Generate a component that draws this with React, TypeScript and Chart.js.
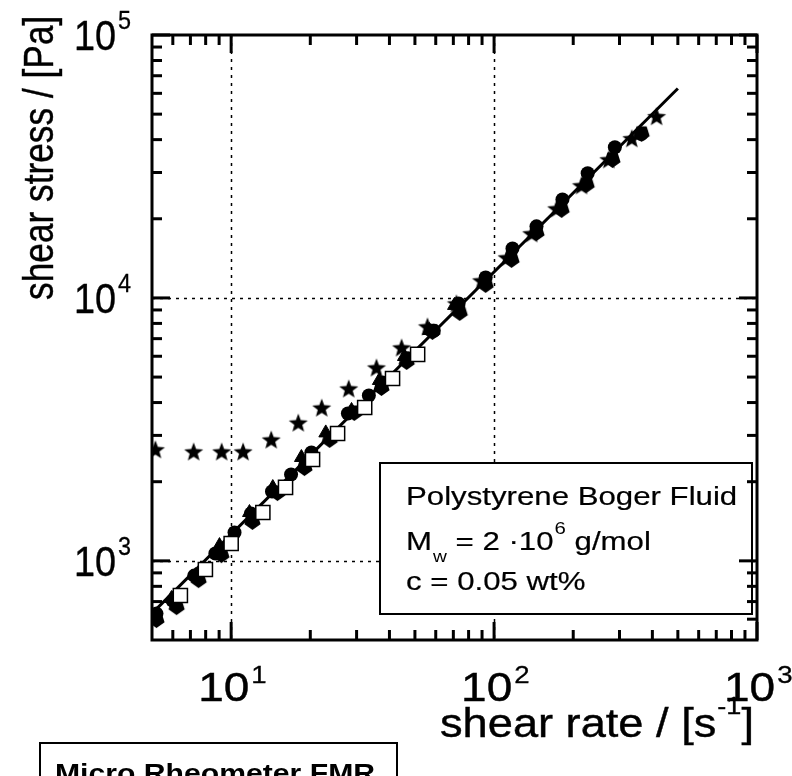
import React, { useEffect, useRef } from 'react';
import { Chart, registerables } from 'chart.js';
Chart.register(...registerables);

// ---- data ----
const fitRate = [5, 500];
const fitStress = [631, 62600];

const starRate = [5.15, 7.2, 9.2, 11.1, 14.2, 18.0, 22.1, 28.0, 35.7, 44.5, 55.8, 71.9, 89.6, 112, 139, 173, 215, 273, 334, 415];
const starStress = [2655, 2606, 2606, 2606, 2894, 3357, 3828, 4525, 5440, 6479, 7791, 9530, 11660, 14260, 17600, 21900, 26800, 33650, 40470, 49100];

const circleRate = [5.2, 5.98, 7.24, 8.71, 10.3, 11.9, 14.3, 16.9, 20.2, 27.8, 33.4, 37.7, 47, 59, 73.3, 92.9, 117.5, 145, 182, 227, 288, 363];
const circleStress = [630, 706, 879, 1066, 1282, 1514, 1836, 2130, 2583, 3636, 4256, 4765, 5900, 7500, 9530, 11970, 15420, 18720, 23700, 29800, 37400, 42000];

const pentRate = [5.2, 6.2, 7.52, 9.18, 12.05, 15.0, 19.0, 23.7, 29.4, 37.3, 46.5, 58.3, 74.0, 92.9, 116.5, 145, 180.6, 225, 282, 364];
const pentStress = [593, 664, 841, 1047, 1400, 1803, 2244, 2872, 3636, 4525, 5683, 7395, 8730, 11160, 13890, 17580, 21530, 26800, 33350, 41900];

const triRate = [5.93, 7.31, 9.03, 11.74, 14.4, 18.5, 22.9, 28.7, 36.6, 45.6, 56.8, 70.7];
const triStress = [719, 879, 1143, 1527, 1900, 2472, 3066, 3733, 4853, 5987, 7520, 9365];

const squareRate = [6.41, 7.98, 10.0, 13.2, 16.1, 20.4, 25.4, 32.2, 41.1, 51.2];
const squareStress = [738, 927, 1164, 1527, 1902, 2430, 3051, 3830, 4940, 6097];

// ---- axes ----
const xMin = 5, xMax = 1000, yMin = 500, yMax = 100000;
const xMajor = [10, 100, 1000];
const xMinor = [6, 7, 8, 9, 20, 30, 40, 50, 60, 70, 80, 90, 200, 300, 400, 500, 600, 700, 800, 900];
const yMajor = [1000, 10000, 100000];
const yMinor = [600, 700, 800, 900, 2000, 3000, 4000, 5000, 6000, 7000, 8000, 9000, 20000, 30000, 40000, 50000, 60000, 70000, 80000, 90000];
const xGrid = [10, 100];
const yGrid = [1000, 10000];
const xTickExp = ['1', '2', '3'];
const yTickExp = ['3', '4', '5'];

const FONT = '"Liberation Sans", Arial, sans-serif';

function txt(ctx: CanvasRenderingContext2D, s: string, x: number, y: number, size: number, sx = 1, bold = false, stroke = 0) {
  ctx.save();
  ctx.font = `${bold ? 'bold ' : ''}${size}px ${FONT}`;
  ctx.textAlign = 'left';
  ctx.textBaseline = 'alphabetic';
  ctx.fillStyle = '#000';
  ctx.strokeStyle = '#000';
  ctx.translate(x, y);
  ctx.scale(sx, 1);
  ctx.fillText(s, 0, 0);
  if (stroke > 0) { ctx.lineWidth = stroke; ctx.strokeText(s, 0, 0); }
  const w = ctx.measureText(s).width * sx;
  ctx.restore();
  return w;
}

function makeStar(size: number, outer: number, inner: number) {
  const c = document.createElement('canvas');
  c.width = size; c.height = size;
  const g = c.getContext('2d')!;
  g.fillStyle = '#000';
  g.beginPath();
  for (let i = 0; i < 10; i++) {
    const r = i % 2 === 0 ? outer : inner;
    const a = -Math.PI / 2 + (i * Math.PI) / 5;
    const px = size / 2 + r * Math.cos(a);
    const py = size / 2 + r * Math.sin(a) + 1;
    if (i === 0) g.moveTo(px, py); else g.lineTo(px, py);
  }
  g.closePath();
  g.fill();
  return c;
}

function makePentagon(size: number, r: number) {
  const c = document.createElement('canvas');
  c.width = size; c.height = size;
  const g = c.getContext('2d')!;
  g.fillStyle = '#000';
  g.beginPath();
  for (let i = 0; i < 5; i++) {
    const a = Math.PI / 2 + (i * 2 * Math.PI) / 5;
    const px = size / 2 + r * Math.cos(a);
    const py = size / 2 + r * Math.sin(a) - 1;
    if (i === 0) g.moveTo(px, py); else g.lineTo(px, py);
  }
  g.closePath();
  g.fill();
  return c;
}

const decor = {
  id: 'decor',
  beforeDatasetsDraw(chart: any) {
    const ctx: CanvasRenderingContext2D = chart.ctx;
    const { left, right, top, bottom } = chart.chartArea;
    const xs = chart.scales.x, ys = chart.scales.y;
    ctx.save();
    ctx.strokeStyle = '#000';
    ctx.lineWidth = 1.5;
    ctx.setLineDash([3, 5]);
    for (const v of xGrid) {
      const px = Math.round(xs.getPixelForValue(v)) + 0.5;
      ctx.beginPath(); ctx.moveTo(px, top); ctx.lineTo(px, bottom); ctx.stroke();
    }
    for (const v of yGrid) {
      const py = Math.round(ys.getPixelForValue(v)) + 0.5;
      ctx.beginPath(); ctx.moveTo(left, py); ctx.lineTo(right, py); ctx.stroke();
    }
    ctx.restore();
  },
  afterDatasetsDraw(chart: any) {
    const ctx: CanvasRenderingContext2D = chart.ctx;
    const { left, right, top, bottom } = chart.chartArea;
    const xs = chart.scales.x, ys = chart.scales.y;

    // legend / annotation box
    ctx.save();
    ctx.fillStyle = '#fff';
    ctx.strokeStyle = '#000';
    ctx.lineWidth = 2;
    ctx.fillRect(380, 463, 372, 151);
    ctx.strokeRect(380, 463, 372, 151);
    ctx.restore();
    txt(ctx, 'Polystyrene Boger Fluid', 406, 505, 26, 1.2, false, 0.2);
    let x = 406;
    x += txt(ctx, 'M', x, 550, 26, 1.2, false, 0.2);
    x += txt(ctx, 'w', x + 1, 562, 16, 1.2) + 1;
    x += txt(ctx, ' = 2 \u00b710', x, 550, 26, 1.2, false, 0.2);
    x += txt(ctx, '6', x + 1, 534, 17, 1.2) + 1;
    txt(ctx, ' g/mol', x, 550, 26, 1.2, false, 0.2);
    txt(ctx, 'c = 0.05 wt%', 406, 590, 26, 1.2, false, 0.2);

    // frame
    ctx.save();
    ctx.strokeStyle = '#000';
    ctx.lineWidth = 3;
    ctx.setLineDash([]);
    ctx.strokeRect(left, top, right - left, bottom - top);

    // ticks
    const major = 18, minor = 10;
    ctx.lineWidth = 3;
    const vt = (v: number, len: number) => {
      const px = xs.getPixelForValue(v);
      ctx.beginPath(); ctx.moveTo(px, bottom); ctx.lineTo(px, bottom - len); ctx.stroke();
      ctx.beginPath(); ctx.moveTo(px, top); ctx.lineTo(px, top + len); ctx.stroke();
    };
    const ht = (v: number, len: number) => {
      const py = ys.getPixelForValue(v);
      ctx.beginPath(); ctx.moveTo(left, py); ctx.lineTo(left + len, py); ctx.stroke();
      ctx.beginPath(); ctx.moveTo(right, py); ctx.lineTo(right - len, py); ctx.stroke();
    };
    xMajor.forEach(v => vt(v, major));
    xMinor.forEach(v => vt(v, minor));
    yMajor.forEach(v => ht(v, major));
    yMinor.forEach(v => ht(v, minor));
    ctx.restore();

    // x tick labels
    xMajor.forEach((v, i) => {
      const px = xs.getPixelForValue(v);
      const w = txt(ctx, '10', px - 33, 701, 40, 1.15, false, 0.4);
      txt(ctx, xTickExp[i], px - 33 + w + 2, 683, 24, 1.15, false, 0.3);
    });
    // y tick labels
    yMajor.forEach((v, i) => {
      const py = ys.getPixelForValue(v);
      const w = txt(ctx, '10', 74, py + 15, 42, 0.9, false, 0.4);
      txt(ctx, yTickExp[i], 74 + w + 2, py - 6, 26, 0.9, false, 0.3);
    });

    // axis titles
    let tx = 440;
    tx += txt(ctx, 'shear rate / [s', tx, 737, 40, 1.13, false, 0.4);
    tx += txt(ctx, '-1', tx + 1, 714, 24, 1.13, false, 0.3) + 1;
    txt(ctx, ']', tx, 737, 40, 1.13, false, 0.4);

    ctx.save();
    ctx.translate(53, 300);
    ctx.rotate(-Math.PI / 2);
    ctx.scale(0.84, 1);
    ctx.font = `42px ${FONT}`;
    ctx.fillStyle = '#000';
    ctx.strokeStyle = '#000';
    ctx.lineWidth = 0.4;
    ctx.textBaseline = 'alphabetic';
    ctx.fillText('shear stress / [Pa]', 0, 0);
    ctx.strokeText('shear stress / [Pa]', 0, 0);
    ctx.restore();

    // bottom-left instrument box
    ctx.save();
    ctx.strokeStyle = '#000';
    ctx.lineWidth = 2;
    ctx.strokeRect(40, 743, 357, 60);
    ctx.restore();
    txt(ctx, 'Micro Rheometer FMR', 55, 782, 26, 1.16, true);
  },
};

export default function App() {
  const ref = useRef<HTMLCanvasElement>(null);
  useEffect(() => {
    document.body.style.margin = '0';
    const star = makeStar(22, 10, 4.2);
    const pent = makePentagon(19, 8.5);
    const pts = (xa: number[], ya: number[]) => xa.map((v, i) => ({ x: v, y: ya[i] }));
    const base = { showLine: false, borderColor: '#000', backgroundColor: '#000' };
    const chart = new Chart(ref.current!, {
      type: 'scatter',
      data: {
        datasets: [
          { ...base, label: 'squares', data: pts(squareRate, squareStress), pointStyle: 'rect', pointRadius: 10, backgroundColor: '#fff', borderColor: '#000', borderWidth: 1.5, order: 1 },
          { ...base, label: 'stars', data: pts(starRate, starStress), pointStyle: star as any, pointRadius: 10, order: 2 },
          { ...base, label: 'triangles', data: pts(triRate, triStress), pointStyle: 'triangle', pointRadius: 8, borderWidth: 1, order: 3 },
          { ...base, label: 'circles', data: pts(circleRate, circleStress), pointStyle: 'circle', pointRadius: 7, borderWidth: 0, order: 4 },
          { ...base, label: 'pentagons', data: pts(pentRate, pentStress), pointStyle: pent as any, pointRadius: 8, order: 5 },
          { label: 'fit', data: pts(fitRate, fitStress), showLine: true, borderColor: '#000', borderWidth: 3, pointRadius: 0, order: 10 } as any,
        ],
      },
      options: {
        animation: false,
        responsive: false,
        devicePixelRatio: 1,
        layout: { padding: { left: 152, top: 35, right: 35, bottom: 136 } },
        plugins: { legend: { display: false }, tooltip: { enabled: false } },
        events: [],
        scales: {
          x: {
            type: 'logarithmic', min: xMin, max: xMax,
            ticks: { display: false }, grid: { display: false }, border: { display: false },
            afterFit: (s: any) => { s.height = 0; },
          },
          y: {
            type: 'logarithmic', min: yMin, max: yMax,
            ticks: { display: false }, grid: { display: false }, border: { display: false },
            afterFit: (s: any) => { s.width = 0; },
          },
        },
      } as any,
      plugins: [decor],
    });
    return () => chart.destroy();
  }, []);
  return (
    <div style={{ width: 792, height: 776, position: 'relative', background: '#fff' }}>
      <canvas ref={ref} width={792} height={776} style={{ display: 'block' }} />
    </div>
  );
}
